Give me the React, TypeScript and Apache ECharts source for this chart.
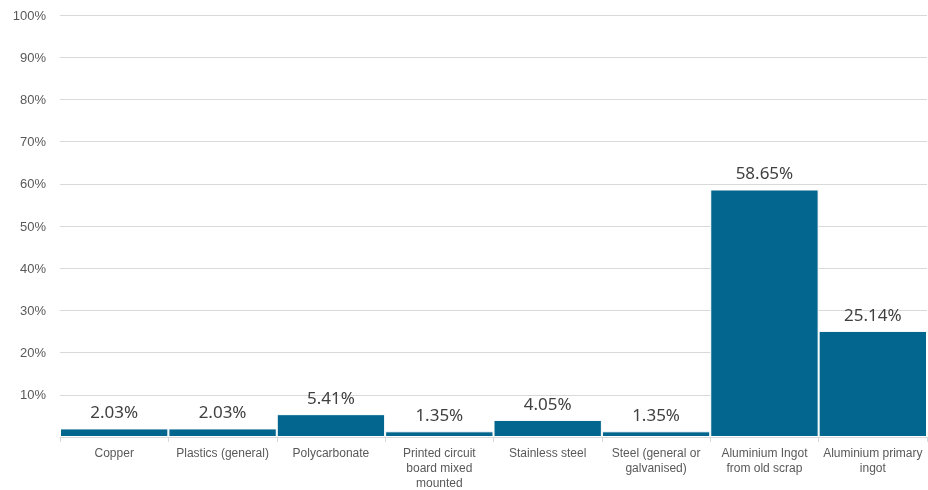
import React, { useEffect, useRef } from "react";
import * as echarts from "echarts";

const categories = [
  "Copper",
  "Plastics (general)",
  "Polycarbonate",
  "Printed circuit\nboard mixed\nmounted",
  "Stainless steel",
  "Steel (general or\ngalvanised)",
  "Aluminium Ingot\nfrom old scrap",
  "Aluminium primary\ningot",
];
const values = [2.03, 2.03, 5.41, 1.35, 4.05, 1.35, 58.65, 25.14];
const yTicks = [0, 10, 20, 30, 40, 50, 60, 70, 80, 90, 100];

export default function App() {
  const ref = useRef<HTMLDivElement>(null);
  useEffect(() => {
    if (!ref.current) return;
    const chart = echarts.init(ref.current, undefined, { renderer: "svg" });
    chart.setOption({
      animation: false,
      grid: { left: 60, right: 1, top: 15, bottom: 52 },
      xAxis: {
        type: "category",
        data: categories,
        axisLine: { show: true, lineStyle: { color: "#d9d9d9", width: 1 } },
        axisTick: { show: true, length: 5, lineStyle: { color: "#d9d9d9" } },
        axisLabel: {
          interval: 0,
          margin: 8,
          color: "#595959",
          fontFamily: "Liberation Sans, Arial, sans-serif",
          fontSize: 12,
          lineHeight: 15,
          overflow: "none",
          hideOverlap: false,
        },
      },
      yAxis: {
        type: "value",
        min: yTicks[0],
        max: yTicks[yTicks.length - 1],
        interval: 10,
        axisLine: { show: false },
        axisTick: { show: false },
        splitLine: { lineStyle: { color: "#d9d9d9", width: 1 } },
        axisLabel: {
          margin: 14,
          color: "#595959",
          fontFamily: "Liberation Sans, Arial, sans-serif",
          fontSize: 13,
          formatter: (v: number) => (v === 0 ? "" : v + "%"),
        },
      },
      series: [
        {
          type: "bar",
          data: values,
          barCategoryGap: "0%",
          itemStyle: { color: "#02668f", borderColor: "#ffffff", borderWidth: 1 },
          label: {
            show: true,
            position: "top",
            distance: 8,
            color: "#404040",
            fontFamily: "Noto Sans, sans-serif",
            fontSize: 17,
            formatter: (p: any) => p.value.toFixed(2) + "%",
          },
        },
      ],
    });
    return () => chart.dispose();
  }, []);
  return (
    <div
      ref={ref}
      style={{ position: "fixed", left: 0, top: 0, width: 928, height: 490 }}
    />
  );
}
